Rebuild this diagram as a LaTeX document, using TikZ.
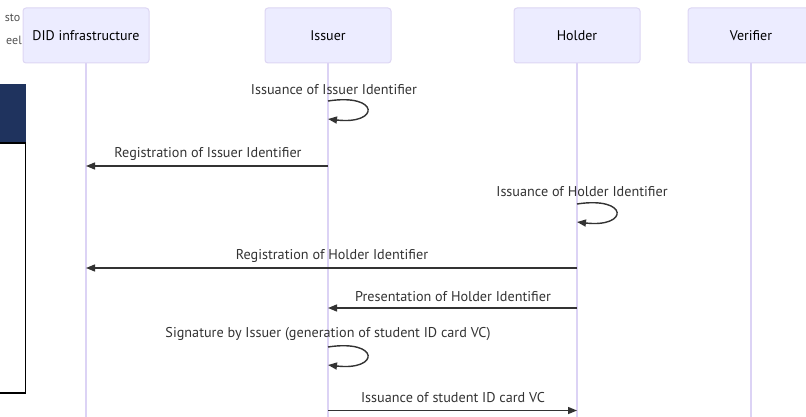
\documentclass[tikz,border=0pt]{standalone}
\usepackage{fontspec}
\setmainfont{PT Sans}
\usetikzlibrary{arrows.meta}
\definecolor{actfill}{HTML}{ECECFF}
\definecolor{actline}{HTML}{DDD6F3}
\definecolor{lifeline}{HTML}{DCD3F5}
\definecolor{ink}{HTML}{333333}
\definecolor{navy}{HTML}{1F335E}
\begin{document}
\begin{tikzpicture}[x=1pt,y=-1pt,
  actor/.style={draw=actline, fill=actfill, line width=1pt, rounded corners=3pt,
    minimum width=126pt, minimum height=55pt, inner sep=0pt,
    font=\fontsize{14}{16}\selectfont, text=black},
  life/.style={draw=lifeline, line width=1.6pt},
  msg/.style={draw=ink, line width=1.4pt, -{Triangle[length=9pt,width=7pt]}},
  msgtext/.style={font=\fontsize{14.2}{16}\selectfont, text=ink, inner sep=0pt},
  sidetext/.style={font=\fontsize{12}{14}\selectfont, text=ink!85, inner sep=0pt, anchor=east}]
  \useasboundingbox (0,0) rectangle (806,417);

  % partially visible note on the left edge
  \node[sidetext] (s1) at (20.5,18) {sto};
  \node[sidetext] (s2) at (22,40) {eel};
  \fill[navy] (-5,84) rectangle (26,143);
  \draw[black, line width=1.5pt, fill=white] (-5,143) -- (25.5,143) -- (25.5,393) -- (-5,393);

  % actors and lifelines
  \node[actor] (did) at (86,35.5) {DID infrastructure};
  \node[actor] (iss) at (328,35.5) {Issuer};
  \node[actor] (hol) at (577,35.5) {Holder};
  \node[actor] (ver) at (751,35.5) {Verifier};
  \foreach \a in {did,iss,hol,ver} {
    \coordinate (\a-end) at (\a.south |- 0,420);
    \draw[life] (\a.south) -- (\a-end);
  }

  % lifeline anchor points for each message
  \coordinate (i1) at (iss.south |- 0,101);
  \coordinate (i1e) at (iss.south |- 0,119);
  \coordinate (i2) at (iss.south |- 0,166);
  \coordinate (d2) at (did.south |- 0,166);
  \coordinate (h3) at (hol.south |- 0,204);
  \coordinate (h3e) at (hol.south |- 0,222);
  \coordinate (h4) at (hol.south |- 0,268);
  \coordinate (d4) at (did.south |- 0,268);
  \coordinate (h5) at (hol.south |- 0,308);
  \coordinate (i5) at (iss.south |- 0,308);
  \coordinate (i6) at (iss.south |- 0,347);
  \coordinate (i6e) at (iss.south |- 0,365);
  \coordinate (i7) at (iss.south |- 0,410.5);
  \coordinate (h7) at (hol.south |- 0,410.5);

  % messages
  \node[msgtext] (t1) at (334,89.5) {Issuance of Issuer Identifier};
  \draw[msg] (i1) .. controls +(52,-8) and +(52,6) .. (i1e);

  \node[msgtext] (t2) at (208,154) {Registration of Issuer Identifier};
  \draw[msg] (i2) -- (d2);

  \node[msgtext] (t3) at (582,191.5) {Issuance of Holder Identifier};
  \draw[msg] (h3) .. controls +(52,-8) and +(52,6) .. (h3e);

  \node[msgtext] (t4) at (332,256) {Registration of Holder Identifier};
  \draw[msg] (h4) -- (d4);

  \node[msgtext] (t5) at (453,297) {Presentation of Holder Identifier};
  \draw[msg] (h5) -- (i5);

  \node[msgtext] (t6) at (328,334.5) {Signature by Issuer (generation of student ID card VC)};
  \draw[msg] (i6) .. controls +(52,-8) and +(52,6) .. (i6e);

  \node[msgtext] (t7) at (453,398) {Issuance of student ID card VC};
  \draw[msg] (i7) -- (h7);
\end{tikzpicture}
\end{document}
